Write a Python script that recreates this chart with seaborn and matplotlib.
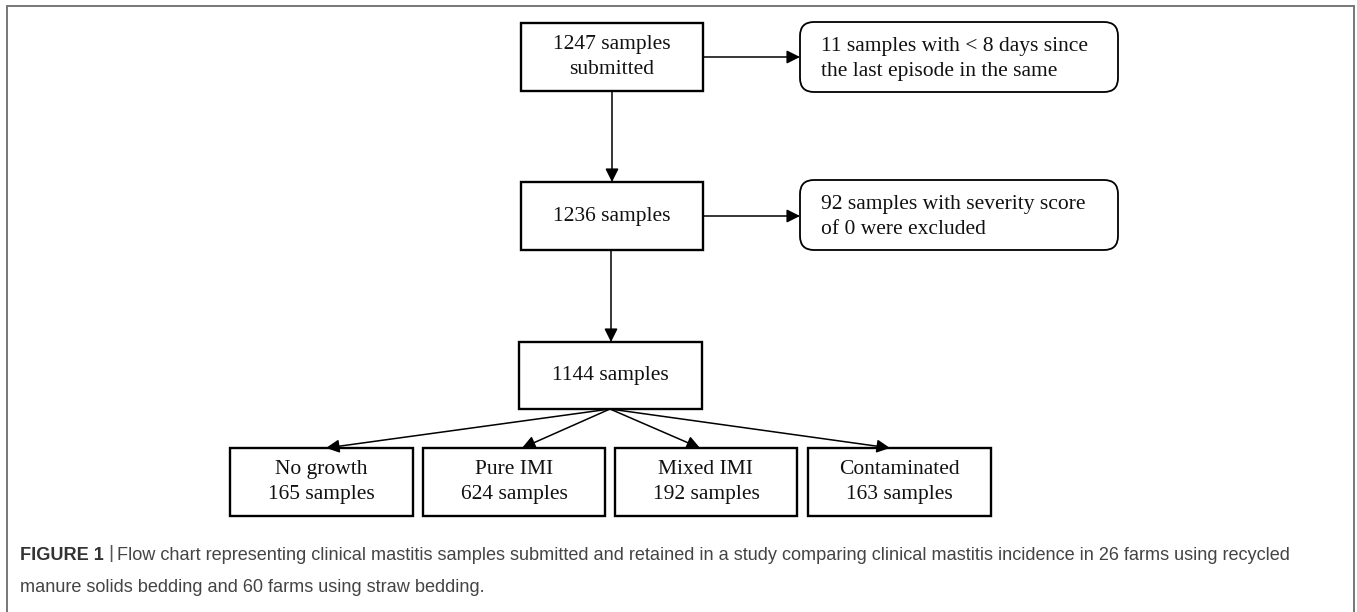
import matplotlib
matplotlib.use("Agg")
import matplotlib.pyplot as plt
from matplotlib import font_manager
from matplotlib.patches import FancyBboxPatch
import seaborn as sns

# flow chart content
stage_labels = ["1247 samples\nsubmitted", "1236 samples", "1144 samples"]
excluded_labels = ["11 samples with < 8 days since\nthe last episode in the same",
                   "92 samples with severity score\nof 0 were excluded"]
outcome_names = ["No growth", "Pure IMI", "Mixed IMI", "Contaminated"]
outcome_counts = [165, 624, 192, 163]
caption_head = "FIGURE 1"
caption_line1 = ("Flow chart representing clinical mastitis samples submitted and retained in a study "
                 "comparing clinical mastitis incidence in 26 farms using recycled")
caption_line2 = "manure solids bedding and 60 farms using straw bedding."

sns.set_theme(style="white")
serif = ["Liberation Serif", "DejaVu Serif"]
installed = {f.name for f in font_manager.fontManager.ttflist}
cap_font = "Liberation Sans Narrow" if "Liberation Sans Narrow" in installed else "Liberation Sans"

fig = plt.figure(figsize=(13.57, 6.12), dpi=100)
ax = fig.add_axes([0, 0, 1, 1])
ax.set_xlim(0, 1357)
ax.set_ylim(612, 0)
ax.axis("off")

# outer frame
ax.plot([7, 7, 1354, 1354], [612, 6, 6, 612], color="#777777", lw=1.4,
        solid_joinstyle="miter")


def box(x0, y0, x1, y1, rounded=False, lw=1.7):
    style = "round,pad=0,rounding_size=14" if rounded else "square,pad=0"
    ax.add_patch(FancyBboxPatch((x0, y0), x1 - x0, y1 - y0, boxstyle=style,
                                fc="white", ec="black", lw=lw))


def arrow(x0, y0, x1, y1):
    ax.annotate("", xy=(x1, y1), xytext=(x0, y0),
                arrowprops=dict(arrowstyle="-|>", mutation_scale=20, lw=1.1,
                                color="black", shrinkA=0, shrinkB=0))


txt = dict(fontsize=15.5, family=serif, color="#111111", linespacing=1.42)

# main stages
stage_boxes = [(521, 23, 703, 91), (521, 182, 703, 250), (519, 342, 702, 409)]
for (x0, y0, x1, y1), lab in zip(stage_boxes, stage_labels):
    box(x0, y0, x1, y1)
    ax.text((x0 + x1) / 2, (y0 + y1) / 2, lab, ha="center", va="center", **txt)
arrow(612, 91, 612, 182)
arrow(611, 250, 611, 342)

# exclusions
excl_boxes = [(800, 22, 1118, 92), (800, 180, 1118, 250)]
for (x0, y0, x1, y1), lab, (sx, sy) in zip(excl_boxes, excluded_labels,
                                            [(703, 57), (703, 216)]):
    box(x0, y0, x1, y1, rounded=True, lw=1.3)
    ax.text(x0 + 21, (y0 + y1) / 2 + 2, lab, ha="left", va="center", **txt)
    arrow(sx, sy, x0, sy)

# outcomes
out_x = [(230, 413), (423, 605), (615, 797), (808, 991)]
tips = [326, 522, 700, 890]
for (x0, x1), name, n, tx in zip(out_x, outcome_names, outcome_counts, tips):
    box(x0, 448, x1, 516)
    ax.text((x0 + x1) / 2, 482, f"{name}\n{n} samples", ha="center", va="center", **txt)
    arrow(610, 409, tx, 448)

# caption, sized so the first line ends where the reference does
fig.canvas.draw()
r = fig.canvas.get_renderer()
inv = ax.transData.inverted()
cap = dict(ha="left", va="center", family=cap_font)
head = ax.text(20, 556, caption_head, fontsize=12.5, weight="bold", color="#333333", **cap)
bar = ax.text(0, 554, "|", fontsize=14, color="#555555", **cap)
body = ax.text(0, 556, caption_line1, fontsize=12.5, color="#444444", **cap)


def place():
    x = inv.transform((head.get_window_extent(r).x1, 0))[0] + 4
    bar.set_x(x)
    x = inv.transform((bar.get_window_extent(r).x1, 0))[0] + 4
    body.set_x(x)
    return x


x_body = place()
w = inv.transform((body.get_window_extent(r).x1, 0))[0] - x_body
fs = 12.5 * (1292 - x_body) / w
body.set_fontsize(fs)
head.set_fontsize(fs)
place()
ax.text(20, 588, caption_line2, fontsize=fs, color="#444444", **cap)

fig.savefig("out.png", dpi=100)
